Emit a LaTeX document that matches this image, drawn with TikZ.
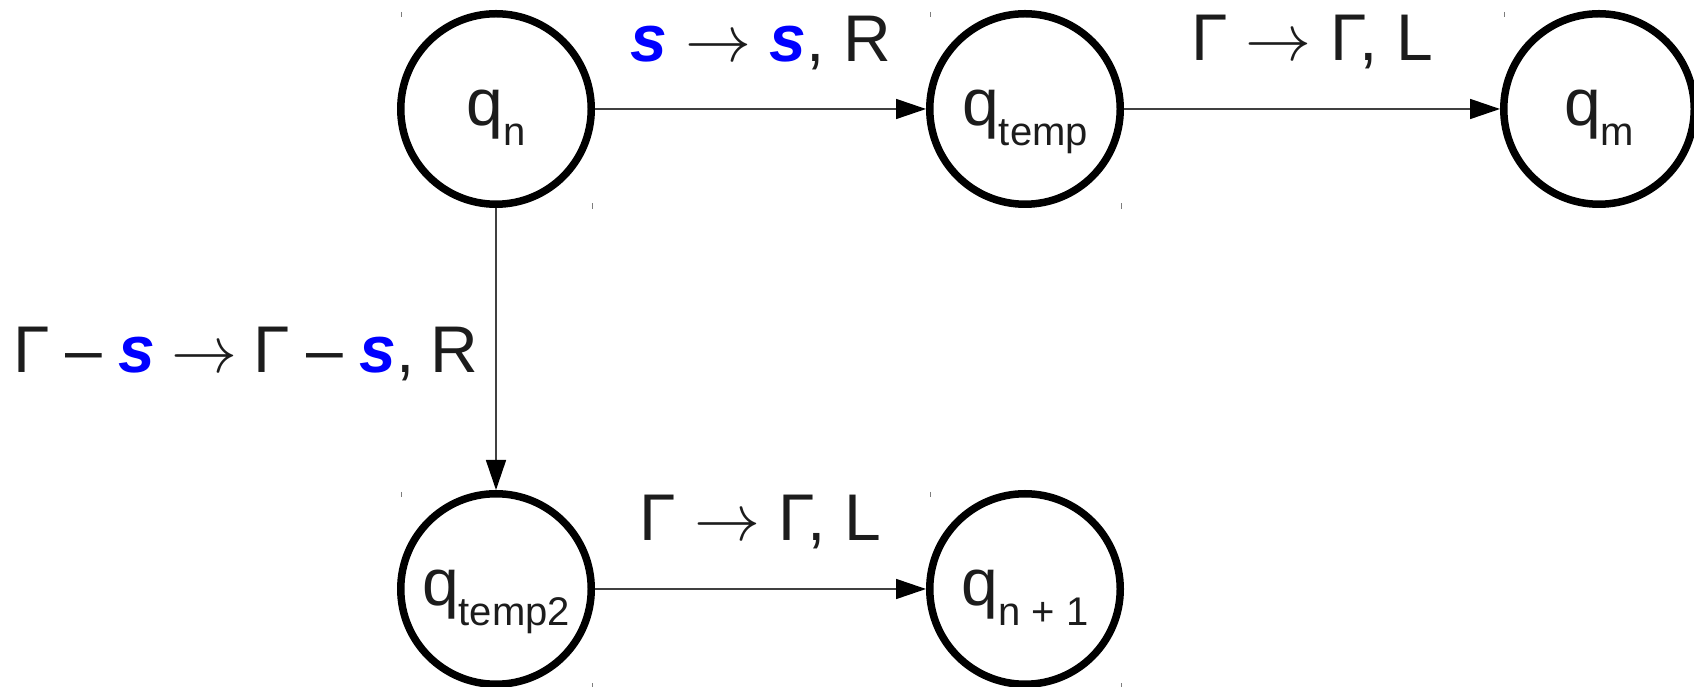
\RequirePackage{fix-cm}
\documentclass[tikz,border=0pt]{standalone}
\usepackage{fontspec}
\setmainfont{Liberation Sans}
\usetikzlibrary{arrows.meta}

\definecolor{ink}{RGB}{28,28,28}
\definecolor{edgegray}{RGB}{64,64,64}
\definecolor{tickgray}{RGB}{125,125,125}
\definecolor{symblue}{RGB}{0,0,255}

% the tape symbol s, set bold italic and blue
\newcommand{\sym}{\textcolor{symblue}{\textbf{\textit{s}}}}
% state name with a lowered, smaller index
\newcommand{\stname}[2]{#1\raisebox{-20pt}{\fontsize{40}{48}\selectfont #2}}

\tikzset{
  state/.style={circle, draw=black, line width=7.5pt, minimum size=190.5pt,
    inner sep=0pt, text=ink, font=\fontsize{66}{79}\selectfont,
    text height=34pt, text depth=0pt},
  trans/.style={draw=edgegray, line width=1.6pt,
    -{Triangle[length=30pt,width=20pt,color=black]}},
  lbl/.style={font=\fontsize{66}{79}\selectfont, text=ink, inner sep=0pt},
  tick/.style={draw=tickgray, line width=1pt}
}

\begin{document}
\begin{tikzpicture}
\useasboundingbox (0,0) rectangle (1694pt,687pt);

% states
\node[state] (qn)     at (496pt,578pt)  {\stname{q}{n}};
\node[state] (qtemp)  at (1025pt,578pt) {\stname{q}{temp}};
\node[state] (qm)     at (1599pt,578pt) {\stname{q}{m}};
\node[state] (qtemp2) at (496pt,98pt)   {\stname{q}{temp2}};
\node[state] (qnext)  at (1025pt,98pt)  {\stname{q}{n + 1}};

% transitions
\draw[trans] (qn) -- node[lbl, anchor=base, yshift=47pt] (lsr)
  {\sym{} $\rightarrow$ \sym, R} (qtemp);
\draw[trans] (qtemp) -- node[lbl, anchor=base, yshift=48pt] (lgl)
  {Γ $\rightarrow$ Γ, L} (qm);
\draw[trans] (qtemp2) -- node[lbl, anchor=base, yshift=48pt] (lgl2)
  {Γ $\rightarrow$ Γ, L} (qnext);
\draw[trans] (qn) -- node[lbl, anchor=base east, xshift=-17pt, yshift=-24pt] (lgs)
  {\spaceskip=0.245em Γ – \sym{} $\rightarrow$ Γ – \sym, R} (qtemp2);

% corner marks of the state boxes
\foreach \s in {qn,qtemp,qm,qtemp2,qnext}{
  \draw[tick] ([shift={(-95pt,97pt)}]\s.center) -- ++(0,-5pt);
  \draw[tick] ([shift={(96pt,-100pt)}]\s.center) -- ++(0,6pt);
}
\end{tikzpicture}
\end{document}
